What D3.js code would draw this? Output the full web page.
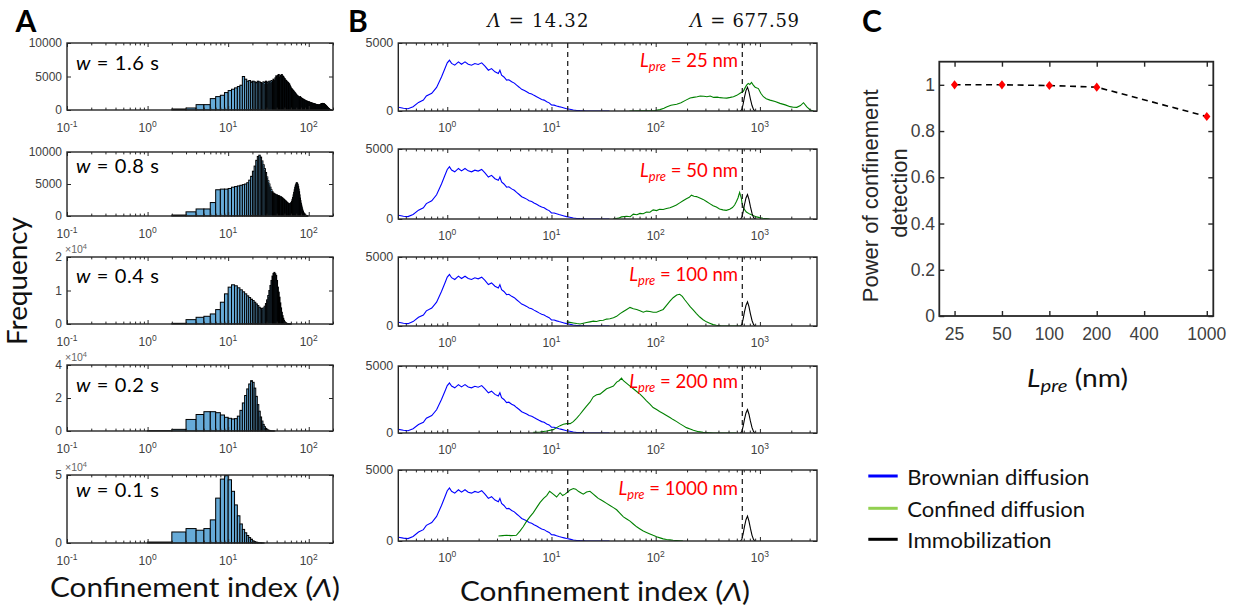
<!DOCTYPE html>
<html><head><meta charset="utf-8">
<script src="https://cdn.jsdelivr.net/npm/d3@7"></script>
<style>body{margin:0;background:#fff}svg{display:block}</style>
</head><body>
<svg id="chart" width="1237" height="611"></svg>
<script>
// ================= DATA =================
// Panel A: histogram counts, bins of width 1 starting at histStart[i]
const windowLabels = ["1.6", "0.8", "0.4", "0.2", "0.1"];
const histStart = [2, 2, 2, 1, 1];
const hist16 = [150,300,800,800,1700,2000,2200,2600,2900,3100,3300,3500,3700,
 5000,4600,4300,4400,4200,4300,4200,4100,4300,4200,4100,4000,4200,4100,4300,4100,
 4200,4300,4200,4400,4300,4600,4400,4800,5100,4700,5200,5300,4900,5200,5000,5300,5100,5000,4800,4700,
 4500,4400,4300,4200,4100,4000,3900,3700,3500,3300,3200,3100,3000,2900,2800,2700,2600,2500,2400,2300,2200,2100,2100,2000,2000,
 1900,1900,2000,1900,1800,1800,1700,1700,1600,1600,1600,1500,1500,1500,1400,1400,1400,1300,1300,1300,1300,1200,1200,1200,1200,
 1200,1150,1150,1100,1100,1100,1050,1050,1000,1000,1000,1000,950,950,950,900,900,900,900,850,850,850,800,800,800,
 800,780,760,750,750,740,730,720,720,730,750,780,800,820,850,870,900,920,940,950,960,970,980,980,970,
 960,950,940,920,900,880,850,820,800,770,740,700,670,640,600,570,540,500,470,430,400,360,330,300,270,
 240,210,180,160,140,120,100,80,60,50,40,30,20,10];
const hist08 = [150,650,1100,1100,2100,4100,4200,4200,4300,
 4500,4600,4700,4800,4900,5000,5200,5600,6200,7000,7800,8700,9300,9500,
 9200,8600,8000,7400,6800,6100,5500,5000,4500,4100,3800,3600,3500,3400,3300,3300,3200,3200,3100,3000,3000,2900,2800,2700,2600,2500,2400,2300,2200,2100,2000,1900,1900,1900,
 2000,2100,2300,2600,2900,3300,3700,4100,4500,4800,5000,5200,5200,5100,4900,4600,4200,3800,3300,2800,2400,2000,1700,1400,1100,900,700,550,430,330,250,190,140,100,70,50,30,20,10];
const hist04 = [200,1300,2000,2300,3000,4300,6500,9000,11000,
 11700,11400,10800,10200,9600,9000,8400,7900,7400,7000,
 6500,6000,5500,5000,4700,4600,4800,5300,6100,7200,
 8500,10000,11500,13000,14300,15100,15400,15000,14500,13000,
 11000,9500,8000,6300,4800,3500,2500,1700,1100,700,
 450,300,200,130,90,60,40,25,15,10];
const hist02 = [200,1000,7000,10000,11700,11700,11100,9700,8300,7700,7300,7500,9000,12500,17000,21500,25500,28500,30500,
 29500,26000,21000,16000,12000,8500,6000,4000,2600,1600,1000,600,350,200,100,50,30,10];
const hist01 = [700,8100,10600,9400,10600,17000,33000,47000,49500,46500,38000,28000,20000,14000,10000,7500,5500,4000,2800,1600,
 1000,600,400,250,150,80,40];
const histYMax = [10000, 10000, 20000, 40000, 50000];
const histYTicks = [[0,5000,10000],[0,5000,10000],[0,10000,20000],[0,20000,40000],[0,50000]];
const histYTickLabels = [["0","5000","10000"],["0","5000","10000"],["0","1","2"],["0","2","4"],["0","5"]];
const histYExponent = [null, null, 4, 4, 4];
const histXDomain = [0.1, 200];
const histXExps = [-1, 0, 1, 2];

// Panel B: curves as [confinement index, frequency]
const bXDomain = [0.339, 3530];
const bXExps = [0, 1, 2, 3];
const bYTicks = [0, 5000];
const thresholds = [14.32, 677.59];
const lpreLabels = ["25", "50", "100", "200", "1000"];
const brownian = [[0.34,270],[0.38,200],[0.42,170],[0.47,320],[0.53,630],[0.59,800],[0.63,1100],[0.71,1300],[0.79,1730],[0.88,2500],
 [0.95,3120],[1.0,3540],[1.05,3730],[1.1,3500],[1.18,3370],[1.28,3610],[1.37,3440],[1.48,3610],[1.59,3440],[1.71,3370],
 [1.84,3490],[1.98,3420],[2.14,3540],[2.3,3300],[2.48,3000],[2.66,3120],[2.87,2880],[3.09,2760],[3.2,3000],[3.32,2640],
 [3.5,2500],[3.71,2270],[3.9,2300],[4.15,2150],[4.4,2050],[4.63,1900],[4.9,1750],[5.18,1590],[5.5,1500],[5.78,1420],
 [6.1,1300],[6.46,1250],[6.8,1150],[7.2,1050],[7.6,950],[8.05,850],[8.5,800],[9.0,680],[9.5,600],[10.0,440],
 [10.6,430],[11.2,370],[11.8,320],[12.5,270],[13.2,220],[14.0,170],[15,130],[16.2,70],[17.5,40],[18.8,25],
 [21,10],[25,5],[30,2],[36,0]];
const immobile = [[650,0],[670,100],[690,500],[710,1000],[735,1500],[760,1750],[785,1400],[810,900],[840,400],[870,100],[900,0]];
const confined25 = [[56,0],[70,10],[85,20],[98,30],[110,100],[120,200],[127,300],[140,420],[159,500],[175,600],[195,800],[214,950],
 [230,1000],[250,1050],[267,1100],[290,1080],[310,1050],[333,1100],[360,1000],[390,1020],[415,980],[450,960],[481,950],[520,1000],
 [557,1050],[600,1150],[645,1300],[693,1450],[720,1700],[745,1900],[773,2030],[800,1950],[830,2100],[864,1900],[900,1750],
 [967,1650],[1020,1300],[1080,1050],[1150,900],[1250,800],[1400,700],[1560,560],[1750,450],[1950,320],[2100,280],[2260,270],
 [2450,400],[2620,610],[2820,300],[3040,80],[3270,0]];
const confined50 = [[39,0],[44,60],[47,150],[52.7,200],[57,160],[61,350],[66,300],[70.7,400],[76,380],[81.6,500],[88,480],[94.5,650],
 [102,600],[109,700],[118,680],[127,750],[137,800],[147,900],[158,1000],[170,1150],[183,1300],[197,1450],[210,1550],[220,1700],
 [233,1620],[246,1600],[265,1500],[285,1400],[307,1250],[330,1100],[356,950],[382,850],[410,720],[442,650],[476,620],[513,700],
 [545,820],[572,1000],[595,1250],[616,1500],[630,1750],[639,1900],[650,1700],[663,1500],[675,1100],[688,900],[715,650],[741,500],
 [800,350],[858,250],[930,150],[993,100],[1070,50],[1150,30],[1240,0]];
const confined100 = [[14,300],[15,260],[16.2,220],[17.5,180],[18.8,150],[20.2,200],[21.7,250],[23.4,300],[25.2,350],[27,330],
 [29.2,400],[31.4,420],[33.8,500],[36.4,520],[39.3,600],[42.2,700],[45.5,900],[49,1050],[52.7,1200],[56.7,1350],[61,1250],
 [65.7,1200],[70.7,1100],[76,1000],[81.6,1080],[88,1050],[94.5,1000],[102,1000],[110,1100],[118,1200],[127,1500],[137,1800],
 [147,2050],[159,2250],[170,2300],[180,2150],[190,1900],[202,1650],[214,1400],[230,1150],[246,900],[265,650],[285,450],[307,300],
 [330,200],[356,100],[382,50],[420,20],[481,0],[560,0],[645,0]];
const confined200 = [[6.7,50],[7.75,80],[9.0,150],[10.4,250],[11.2,400],[12.1,550],[13,650],[14,700],[15.1,700],[16.2,850],
 [17.4,1100],[18.8,1400],[20.2,1700],[21.7,2000],[23.4,2300],[25.2,2700],[27.1,2850],[29.2,2900],[31.4,3100],[33.8,3300],
 [36.4,3400],[39.3,3500],[42.2,3800],[44.5,3900],[47,4100],[49,3900],[52.7,3700],[56.7,3500],[61,3300],[65.7,3100],[70.7,2900],
 [76,2650],[81.6,2400],[88,2150],[94.5,1900],[102,1750],[109,1600],[118,1450],[127,1300],[137,1150],[147,1000],[159,850],
 [170,700],[183,550],[197,400],[214,300],[230,200],[257,100],[285,50],[330,20],[356,0],[450,0],[595,0]];
const confined1000 = [[3.1,350],[3.4,380],[3.7,400],[4.1,380],[4.6,400],[4.98,700],[5.35,1000],[5.78,1400],[6.2,1700],[6.7,2000],
 [7.2,2350],[7.75,2700],[8.4,3000],[9.0,3200],[9.6,3500],[10.4,3300],[11.2,3100],[12.1,3400],[12.8,3200],[13.5,3300],[14.3,3450],
 [15.1,3600],[16.2,3700],[17.1,3650],[18.1,3500],[19.1,3400],[20.2,3300],[21.7,3450],[23.4,3500],[25.2,3300],[26.6,3150],
 [28.1,3000],[29.7,2900],[31.4,2800],[33.8,2650],[36.4,2500],[39.3,2350],[42.2,2200],[45.5,1950],[49,1700],[52.7,1550],
 [56.7,1400],[61,1200],[65.7,1000],[70.7,850],[76,700],[81.6,600],[88,500],[94.5,400],[102,300],[110,220],[118,150],[127,110],
 [137,80],[147,50],[159,30],[170,15],[183,0]];

// Panel C
const lpreValues = [25, 50, 100, 200, 1000];
const powerValues = [1.0, 1.0, 0.997, 0.99, 0.863];
const cXDomain = [20, 1100];
const cXTicks = [25, 50, 100, 200, 400, 1000];
const cYDomain = [0, 1.1];
const cYTicks = [0, 0.2, 0.4, 0.6, 0.8, 1];
const cYTickLabels = ["0", "0.2", "0.4", "0.6", "0.8", "1"];

// Legend
const legendNames = ["Brownian diffusion", "Confined diffusion", "Immobilization"];
const legendColors = ["#0000ff", "#92d050", "#000000"];

// ================= LAYOUT / STYLE =================
const TICKF = "'Liberation Sans', Arial, sans-serif";
const LABF = "Lato, 'Open Sans', sans-serif";
const FRAME = "#262626";
const TICKCOL = "#404040";
const aLeft = 67, aRight = 333;
const aRows = [[43,110],[152,216],[257,324],[365,431],[475,543]];
const aTextBase = [70, 173.3, 283.3, 392.3, 496.7];
const bLeft = 398.3, bRight = 817;
const bRows = [[43,111],[149,219],[257,326],[366,433],[470,541]];
const bLabelBase = [67, 176.5, 280.5, 388, 495];

const svg = d3.select("#chart");
svg.append("rect").attr("width", 1237).attr("height", 611).attr("fill", "#fff");

function logMinor(domain) {
  const [lo, hi] = domain, major = [], minor = [];
  for (let e = Math.floor(Math.log10(lo)); e <= Math.ceil(Math.log10(hi)); e++) {
    for (let m = 1; m <= 9; m++) {
      const v = m * Math.pow(10, e);
      if (v >= lo * 0.999 && v <= hi * 1.001) (m === 1 ? major : minor).push(v);
    }
  }
  return { major, minor };
}

function tickAxis(g, axisGen, tx, ty, values, size) {
  const a = g.append("g").attr("transform", `translate(${tx},${ty})`)
    .call(axisGen.tickValues(values).tickSize(-size).tickSizeOuter(0).tickFormat(""));
  a.select(".domain").remove();
  a.selectAll("line").attr("stroke", FRAME).attr("stroke-width", 1);
  return a;
}

function logFrame(g, x, y, yTicks, yLabels, xExps, opts) {
  const [x0, x1] = x.range();
  const [y1, y0] = y.range();
  const { major, minor } = logMinor(x.domain());
  tickAxis(g, d3.axisBottom(x), 0, y1, major, 4);
  tickAxis(g, d3.axisBottom(x), 0, y1, minor, 2.4);
  tickAxis(g, d3.axisTop(x), 0, y0, major, 4);
  tickAxis(g, d3.axisTop(x), 0, y0, minor, 2.4);
  tickAxis(g, d3.axisLeft(y), x0, 0, yTicks, 4);
  tickAxis(g, d3.axisRight(y), x1, 0, yTicks, 4);
  g.append("rect").attr("x", x0).attr("y", y0).attr("width", x1 - x0).attr("height", y1 - y0)
    .attr("fill", "none").attr("stroke", FRAME).attr("stroke-width", 1.4);
  xExps.forEach(e => {
    const t = g.append("text").attr("x", x(Math.pow(10, e))).attr("y", y1 + opts.xLabOff)
      .attr("text-anchor", "middle").attr("font-family", TICKF).attr("font-size", 12).attr("fill", TICKCOL);
    t.append("tspan").text("10");
    t.append("tspan").attr("dy", -5.5).attr("font-size", 8.5).text(String(e));
  });
  yTicks.forEach((v, i) => {
    g.append("text").attr("x", x0 - 5).attr("y", y(v) + 4.3).attr("text-anchor", "end")
      .attr("font-family", TICKF).attr("font-size", opts.yFont).attr("fill", TICKCOL).text(yLabels[i]);
  });
}

// ================= PANEL A =================
const hists = [hist16, hist08, hist04, hist02, hist01];
hists.forEach((h, i) => {
  const [top, bot] = aRows[i];
  const x = d3.scaleLog().domain(histXDomain).range([aLeft, aRight]);
  const y = d3.scaleLinear().domain([0, histYMax[i]]).range([bot, top]);
  const g = svg.append("g");
  const bins = h.map((c, k) => ({ lo: histStart[i] + k, hi: histStart[i] + k + 1, c }));
  g.append("g").selectAll("rect").data(bins.filter(b => b.c > 0)).join("rect")
    .attr("x", b => x(b.lo)).attr("width", b => x(b.hi) - x(b.lo))
    .attr("y", b => y(b.c)).attr("height", b => y(0) - y(b.c))
    .attr("fill", "#66aad7").attr("stroke", "#000").attr("stroke-width", 1);
  logFrame(g, x, y, histYTicks[i], histYTickLabels[i], histXExps, { xLabOff: 22, yFont: 12 });
  if (histYExponent[i] !== null) {
    const t = g.append("text").attr("x", aLeft - 2).attr("y", top - 4.5)
      .attr("font-family", TICKF).attr("font-size", 10.5).attr("fill", "#666");
    t.append("tspan").text("\u00d710");
    t.append("tspan").attr("dy", -4).attr("font-size", 7.5).text(String(histYExponent[i]));
  }
  const wt = g.append("text").attr("x", 76).attr("y", aTextBase[i]).attr("font-family", LABF)
    .attr("font-size", 20).attr("fill", "#000").attr("textLength", 83).attr("lengthAdjust", "spacing");
  wt.append("tspan").attr("font-style", "italic").text("w");
  wt.append("tspan").text(` = ${windowLabels[i]} s`);
});

// ================= PANEL B =================
const confinedSets = [confined25, confined50, confined100, confined200, confined1000];
confinedSets.forEach((conf, i) => {
  const [top, bot] = bRows[i];
  const x = d3.scaleLog().domain(bXDomain).range([bLeft, bRight]);
  const y = d3.scaleLinear().domain([0, 5000]).range([bot, top]);
  const g = svg.append("g");
  const cid = "clipB" + i;
  svg.append("clipPath").attr("id", cid).append("rect")
    .attr("x", bLeft).attr("y", top).attr("width", bRight - bLeft).attr("height", bot - top);
  const line = d3.line().x(d => x(d[0])).y(d => y(d[1]));
  const pg = g.append("g").attr("clip-path", `url(#${cid})`);
  pg.append("path").datum(brownian).attr("d", line).attr("fill", "none").attr("stroke", "#0000ff").attr("stroke-width", 1.1);
  pg.append("path").datum(conf).attr("d", line).attr("fill", "none").attr("stroke", "#008000").attr("stroke-width", 1.1);
  pg.append("path").datum(immobile).attr("d", line).attr("fill", "none").attr("stroke", "#000").attr("stroke-width", 1.1);
  thresholds.forEach(t => {
    g.append("line").attr("x1", x(t)).attr("x2", x(t)).attr("y1", top).attr("y2", bot)
      .attr("stroke", "#111").attr("stroke-width", 1.2).attr("stroke-dasharray", "5,4");
  });
  logFrame(g, x, y, bYTicks, bYTicks.map(String), bXExps, { xLabOff: 21, yFont: 12.5 });
  const lt = g.append("text").attr("x", 738).attr("y", bLabelBase[i]).attr("text-anchor", "end")
    .attr("font-family", LABF).attr("font-size", 18.5).attr("fill", "#ff0000");
  lt.append("tspan").attr("font-style", "italic").text("L");
  lt.append("tspan").attr("font-style", "italic").attr("font-size", 13).attr("dy", 4).text("pre");
  lt.append("tspan").attr("dy", -4).text(` = ${lpreLabels[i]} nm`);
});
// B titles
const titleCenters = [538, 744.5];
thresholds.forEach((t, i) => {
  const tt = svg.append("text").attr("x", titleCenters[i]).attr("y", 27.3).attr("text-anchor", "middle")
    .attr("font-family", "'DejaVu Serif', serif").attr("font-size", 18).attr("fill", "#111")
    .attr("textLength", i === 0 ? 101 : 109).attr("lengthAdjust", "spacing");
  tt.append("tspan").attr("font-style", "italic").text("\u039b");
  tt.append("tspan").text(" = " + t.toFixed(2));
});

// ================= PANEL C =================
{
  const cx0 = 939.3, cx1 = 1213.3, cy0 = 61.7, cy1 = 316;
  const x = d3.scaleLog().base(2).domain(cXDomain).range([cx0, cx1]);
  const y = d3.scaleLinear().domain(cYDomain).range([cy1, cy0]);
  const g = svg.append("g");
  tickAxis(g, d3.axisBottom(x), 0, cy1, cXTicks, 5);
  tickAxis(g, d3.axisTop(x), 0, cy0, cXTicks, 5);
  tickAxis(g, d3.axisLeft(y), cx0, 0, cYTicks, 5);
  tickAxis(g, d3.axisRight(y), cx1, 0, cYTicks, 5);
  g.selectAll("line").attr("stroke-width", 1.4);
  const pts = lpreValues.map((v, i) => [v, powerValues[i]]);
  g.append("path").datum(pts).attr("d", d3.line().x(d => x(d[0])).y(d => y(d[1])))
    .attr("fill", "none").attr("stroke", "#000").attr("stroke-width", 1.6).attr("stroke-dasharray", "6,4.5");
  g.selectAll("path.mk").data(pts).join("path").attr("class", "mk")
    .attr("transform", d => `translate(${x(d[0])},${y(d[1])})`)
    .attr("d", "M0,-4.6L3.6,0L0,4.6L-3.6,0Z").attr("fill", "#ff0000");
  g.append("rect").attr("x", cx0).attr("y", cy0).attr("width", cx1 - cx0).attr("height", cy1 - cy0)
    .attr("fill", "none").attr("stroke", FRAME).attr("stroke-width", 1.8);
  cXTicks.forEach(v => {
    g.append("text").attr("x", x(v)).attr("y", 340).attr("text-anchor", "middle")
      .attr("font-family", TICKF).attr("font-size", 17.5).attr("fill", TICKCOL).text(String(v));
  });
  cYTicks.forEach((v, i) => {
    g.append("text").attr("x", 935).attr("y", y(v) + 6).attr("text-anchor", "end")
      .attr("font-family", TICKF).attr("font-size", 17.5).attr("fill", TICKCOL).text(cYTickLabels[i]);
  });
  g.append("text").attr("transform", "translate(878,195.8) rotate(-90)").attr("text-anchor", "middle")
    .attr("font-family", TICKF).attr("font-size", 22).attr("fill", "#262626").text("Power of confinement");
  g.append("text").attr("transform", "translate(907,193) rotate(-90)").attr("text-anchor", "middle")
    .attr("font-family", TICKF).attr("font-size", 22).attr("fill", "#262626").text("detection");
  const xl = g.append("text").attr("x", 1077.5).attr("y", 387).attr("text-anchor", "middle")
    .attr("font-family", LABF).attr("font-size", 25).attr("fill", "#111")
    .attr("textLength", 101).attr("lengthAdjust", "spacingAndGlyphs");
  xl.append("tspan").attr("font-style", "italic").text("L");
  xl.append("tspan").attr("font-style", "italic").attr("font-size", 18).attr("dy", 5).text("pre");
  xl.append("tspan").attr("dy", -5).text(" (nm)");
}

// ================= LEGEND =================
const legY = [476, 508.3, 539.3];
legendNames.forEach((n, i) => {
  svg.append("line").attr("x1", 868.3).attr("x2", 897.7).attr("y1", legY[i]).attr("y2", legY[i])
    .attr("stroke", legendColors[i]).attr("stroke-width", 3);
  svg.append("text").attr("x", 907.3).attr("y", legY[i] + 8.5).attr("font-family", LABF)
    .attr("font-size", 21).attr("fill", "#111")
    .attr("textLength", [182, 177.7, 144.3][i]).attr("lengthAdjust", "spacingAndGlyphs").text(n);
});

// ================= AXIS LABELS & PANEL LETTERS =================
function confLabel(cx, base) {
  const t = svg.append("text").attr("x", cx).attr("y", base).attr("text-anchor", "middle")
    .attr("font-family", LABF).attr("font-size", 26).attr("fill", "#111")
    .attr("textLength", 290).attr("lengthAdjust", "spacingAndGlyphs");
  t.append("tspan").text("Confinement index (");
  t.append("tspan").attr("font-style", "italic").text("\u039b");
  t.append("tspan").text(")");
}
confLabel(195, 597.3);
confLabel(605, 601);
svg.append("text").attr("transform", "translate(26.5,281) rotate(-90)").attr("text-anchor", "middle")
  .attr("font-family", LABF).attr("font-size", 27).attr("fill", "#111")
  .attr("textLength", 128).attr("lengthAdjust", "spacingAndGlyphs").text("Frequency");
[["A", 15.5, 31.7], ["B", 348, 32], ["C", 862, 32]].forEach(([l, x, y]) => {
  svg.append("text").attr("x", x).attr("y", y).attr("font-family", LABF).attr("font-weight", 700)
    .attr("font-size", 30).attr("fill", "#000").text(l);
});
</script>
</body></html>
